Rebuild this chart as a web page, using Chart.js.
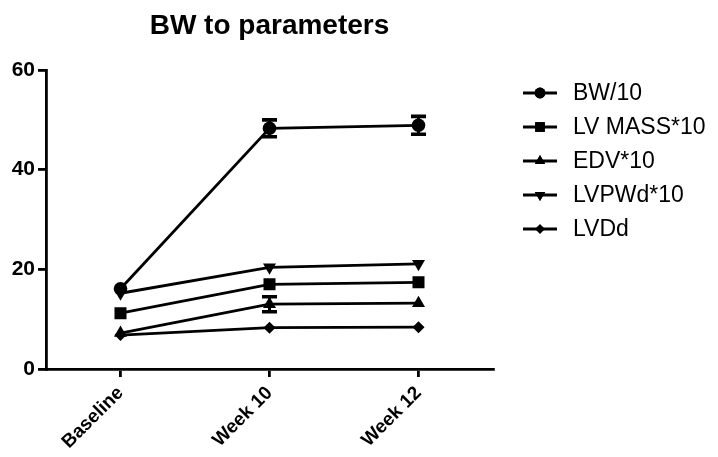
<!DOCTYPE html>
<html>
<head>
<meta charset="utf-8">
<script src="https://cdn.jsdelivr.net/npm/chart.js@4"></script>
<style>
  html, body { margin: 0; padding: 0; background: #fff; }
  #wrap { width: 718px; height: 457px; }
</style>
</head>
<body>
<div id="wrap"><canvas id="bwChart" width="718" height="457"></canvas></div>
<script>
const FONT = "'Liberation Sans', Arial, sans-serif";

const timepoints = ["Baseline", "Week 10", "Week 12"];
const seriesNames = ["BW/10", "LV MASS*10", "EDV*10", "LVPWd*10", "LVDd"];

const bw = [16.1, 48.3, 48.9];
const lvMass = [11.2, 17.0, 17.4];
const edv = [7.2, 13.0, 13.2];
const lvpwd = [15.2, 20.4, 21.1];
const lvdd = [6.8, 8.3, 8.4];

// SEM per point (null where the bar is smaller than the marker)
const bwErr = [null, 1.7, 1.8];
const lvMassErr = [null, null, null];
const edvErr = [null, 1.5, null];
const lvpwdErr = [null, null, null];
const lvddErr = [null, null, null];

const yTicks = [0, 20, 40, 60];

function series(i, data, err, style, radius, rot) {
  return {
    label: seriesNames[i],
    data: data,
    errors: err,
    borderColor: "#000",
    backgroundColor: "#000",
    borderWidth: 2.8,
    pointStyle: style,
    pointRadius: radius,
    pointHoverRadius: radius,
    pointRotation: rot || 0,
    pointBackgroundColor: "#000",
    pointBorderColor: "#000",
    pointBorderWidth: 0,
    tension: 0
  };
}

const errorBars = {
  id: "errorBars",
  afterDatasetsDraw(chart) {
    const ctx = chart.ctx;
    const ys = chart.scales.y;
    ctx.save();
    ctx.strokeStyle = "#000";
    chart.data.datasets.forEach((ds, di) => {
      const meta = chart.getDatasetMeta(di);
      meta.data.forEach((pt, j) => {
        const e = ds.errors[j];
        if (e == null) return;
        const top = ys.getPixelForValue(ds.data[j] + e);
        const bot = ys.getPixelForValue(ds.data[j] - e);
        ctx.lineWidth = 3;
        ctx.beginPath();
        ctx.moveTo(pt.x, top);
        ctx.lineTo(pt.x, bot);
        ctx.stroke();
        ctx.lineWidth = 3.6;
        ctx.beginPath();
        ctx.moveTo(pt.x - 7.5, top);
        ctx.lineTo(pt.x + 7.5, top);
        ctx.moveTo(pt.x - 7.5, bot);
        ctx.lineTo(pt.x + 7.5, bot);
        ctx.stroke();
      });
    });
    ctx.restore();
  }
};

const titleAndLegend = {
  id: "titleAndLegend",
  afterDraw(chart) {
    const ctx = chart.ctx;
    const area = chart.chartArea;
    ctx.save();
    ctx.fillStyle = "#000";
    ctx.font = "bold 28px " + FONT;
    ctx.textAlign = "center";
    ctx.textBaseline = "alphabetic";
    ctx.fillText("BW to parameters", (area.left + area.right) / 2, 34);

    ctx.font = "23px " + FONT;
    ctx.textAlign = "left";
    ctx.textBaseline = "middle";
    chart.data.datasets.forEach((ds, i) => {
      const y = 93 + i * 34;
      ctx.strokeStyle = "#000";
      ctx.lineWidth = 2.8;
      ctx.beginPath();
      ctx.moveTo(523, y);
      ctx.lineTo(557, y);
      ctx.stroke();
      Chart.helpers.drawPoint(ctx, {
        pointStyle: ds.pointStyle,
        radius: ds.pointRadius * 0.8,
        rotation: ds.pointRotation,
        borderWidth: 0
      }, 540, y);
      ctx.fill();
      ctx.fillText(ds.label, 573, y + 1);
    });
    ctx.restore();
  }
};

new Chart(document.getElementById("bwChart"), {
  type: "line",
  data: {
    labels: timepoints,
    datasets: [
      series(0, bw, bwErr, "circle", 6.8),
      series(1, lvMass, lvMassErr, "rect", 8.5),
      series(2, edv, edvErr, "triangle", 7.5),
      series(3, lvpwd, lvpwdErr, "triangle", 7.5, 180),
      series(4, lvdd, lvddErr, "rectRot", 6)
    ]
  },
  options: {
    responsive: false,
    animation: false,
    layout: { padding: { top: 70, right: 225, left: 0, bottom: 0 } },
    plugins: {
      legend: { display: false },
      title: { display: false },
      tooltip: { enabled: false }
    },
    scales: {
      x: {
        offset: true,
        grid: {
          offset: false,
          drawOnChartArea: false,
          drawTicks: true,
          tickLength: 8,
          color: "#000",
          lineWidth: 2.8
        },
        border: { display: true, color: "#000", width: 2.8 },
        ticks: {
          color: "#000",
          font: { family: FONT, size: 19, weight: "bold" },
          minRotation: 45,
          maxRotation: 45,
          padding: 5
        },
        afterFit(scale) { scale.height = 88; }
      },
      y: {
        min: 0,
        max: 60,
        afterBuildTicks(scale) { scale.ticks = yTicks.map(v => ({ value: v })); },
        grid: {
          drawOnChartArea: false,
          drawTicks: true,
          tickLength: 8,
          color: "#000",
          lineWidth: 2.8
        },
        border: { display: true, color: "#000", width: 2.8 },
        ticks: {
          color: "#000",
          font: { family: FONT, size: 21, weight: "bold" },
          padding: 3
        },
        afterFit(scale) { scale.width = 46; }
      }
    }
  },
  plugins: [errorBars, titleAndLegend]
});
</script>
</body>
</html>
